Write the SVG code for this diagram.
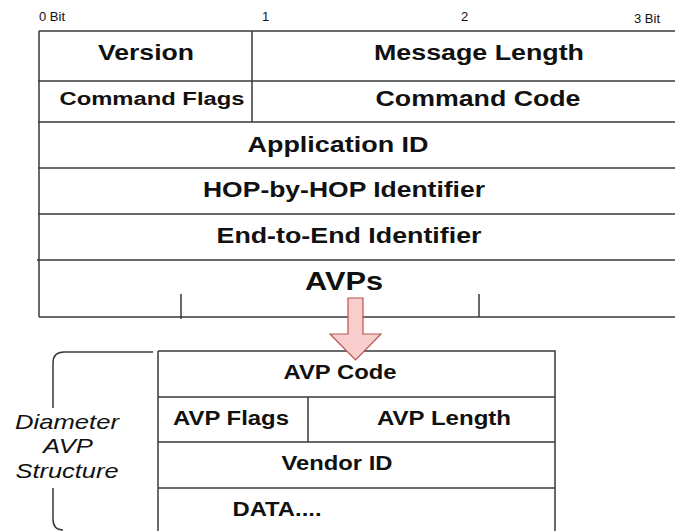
<svg xmlns="http://www.w3.org/2000/svg" width="675" height="531" viewBox="0 0 675 531">
  <style>
    .grid { stroke: #3a3a3a; stroke-width: 1.5; fill: none; }
    .lbl { font-family: "Liberation Sans", Arial, sans-serif; font-weight: bold; fill: #111; text-anchor: middle; }
    .bit { font-family: "Liberation Sans", Arial, sans-serif; font-size: 13px; fill: #111; }
    .side { font-family: "Liberation Sans", Arial, sans-serif; font-style: italic; font-size: 21px; fill: #111; text-anchor: middle; }
  </style>
  <rect width="675" height="531" fill="#ffffff"/>

  <!-- bit ruler -->
  <g id="ruler">
    <text class="bit" x="39" y="21">0 Bit</text>
    <text class="bit" x="262" y="21">1</text>
    <text class="bit" x="461" y="21">2</text>
    <text class="bit" x="634" y="23">3  Bit</text>
  </g>

  <!-- Diameter header -->
  <g id="header-frame">
    <path class="grid" d="M39,31 H675 M39,31 V317 M38,81 H675 M38,122 H675 M38,168 H675 M38,214 H675 M37,260 H675 M39,317 H675 M252,31 V122 M181,294 V319 M479,294 V317"/>
  </g>
  <g id="version"><text class="lbl" x="146" y="60" font-size="22" textLength="96" lengthAdjust="spacingAndGlyphs">Version</text></g>
  <g id="message-length"><text class="lbl" x="479" y="60" font-size="22" textLength="210" lengthAdjust="spacingAndGlyphs">Message Length</text></g>
  <g id="command-flags"><text class="lbl" x="152" y="105" font-size="18" textLength="185" lengthAdjust="spacingAndGlyphs">Command Flags</text></g>
  <g id="command-code"><text class="lbl" x="478" y="106" font-size="22" textLength="205" lengthAdjust="spacingAndGlyphs">Command Code</text></g>
  <g id="application-id"><text class="lbl" x="338" y="152" font-size="22" textLength="181" lengthAdjust="spacingAndGlyphs">Application ID</text></g>
  <g id="hop-by-hop"><text class="lbl" x="344" y="197" font-size="22" textLength="282" lengthAdjust="spacingAndGlyphs">HOP-by-HOP Identifier</text></g>
  <g id="end-to-end"><text class="lbl" x="349" y="243" font-size="22" textLength="265" lengthAdjust="spacingAndGlyphs">End-to-End Identifier</text></g>
  <g id="avps"><text class="lbl" x="344" y="290" font-size="25" textLength="78" lengthAdjust="spacingAndGlyphs">AVPs</text></g>

  <!-- AVP structure -->
  <g id="avp-frame">
    <path class="grid" d="M158,351 H555 V531 M158,351 V531 M158,397 H555 M158,442 H555 M158,488 H555 M308,397 V442"/>
  </g>
  <g id="avp-code"><text class="lbl" x="340" y="379" font-size="20" textLength="113" lengthAdjust="spacingAndGlyphs">AVP Code</text></g>
  <g id="avp-flags"><text class="lbl" x="231" y="425" font-size="20" textLength="116" lengthAdjust="spacingAndGlyphs">AVP Flags</text></g>
  <g id="avp-length"><text class="lbl" x="444" y="425" font-size="20" textLength="134" lengthAdjust="spacingAndGlyphs">AVP Length</text></g>
  <g id="vendor-id"><text class="lbl" x="337" y="470" font-size="20" textLength="111" lengthAdjust="spacingAndGlyphs">Vendor ID</text></g>
  <g id="data"><text class="lbl" x="277" y="516" font-size="20" textLength="89" lengthAdjust="spacingAndGlyphs">DATA....</text></g>

  <!-- side bracket and caption -->
  <g id="avp-caption">
    <path class="grid" d="M153,352 H64 Q53,352 53,363 V408 M53,488 V519 Q53,530 63,530"/>
    <text class="side" x="67" y="429" textLength="104" lengthAdjust="spacingAndGlyphs">Diameter</text>
    <text class="side" x="68" y="453" textLength="50" lengthAdjust="spacingAndGlyphs">AVP</text>
    <text class="side" x="67" y="478" textLength="103" lengthAdjust="spacingAndGlyphs">Structure</text>
  </g>

  <!-- expansion arrow -->
  <g id="connectors">
    <polygon points="348,298 363,298 363,334 381,334 355.5,360 330,334 348,334" fill="#f8cecc" stroke="#b85450" stroke-width="1.2"/>
  </g>
</svg>
